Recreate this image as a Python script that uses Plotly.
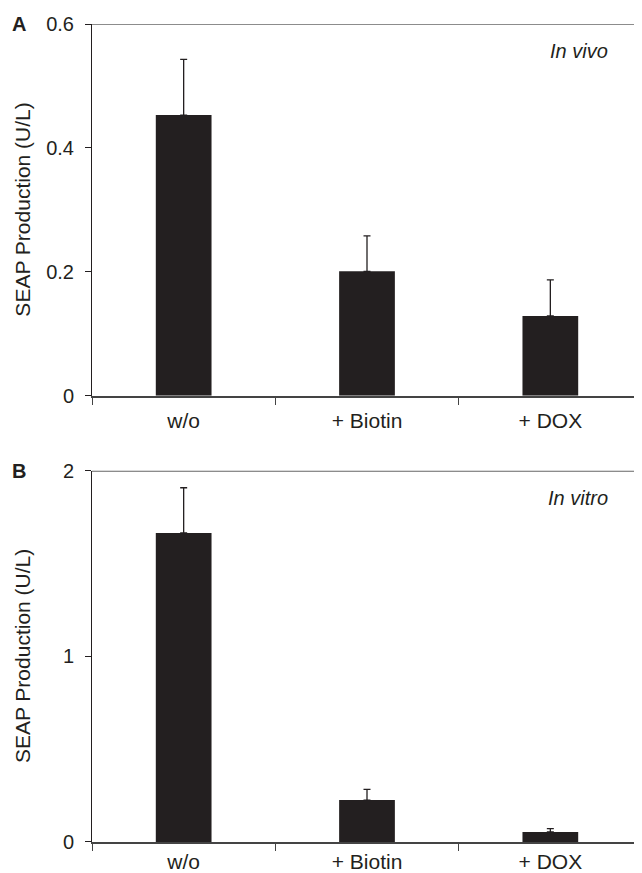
import plotly.graph_objects as go

categories = ["w/o", "+ Biotin", "+ DOX"]
vivo_values = [0.453, 0.201, 0.129]
vivo_err = [0.090, 0.057, 0.058]
vitro_values = [1.665, 0.226, 0.054]
vitro_err = [0.244, 0.058, 0.018]

y_title = "SEAP Production (U/L)"
panel_labels = ["A", "B"]
panel_notes = ["In vivo", "In vitro"]

INK = "#231f20"
FONT = "Liberation Sans, Arial, sans-serif"

# page body has an 8px margin; work in window pixels and convert
OFF = 8
W, H = 642, 873
AX_L, AX_R = 92.3, 642          # window px
A_TOP, A_BOT = 23.7, 395.7
B_TOP, B_BOT = 470.7, 842
ML = AX_L - OFF
MR = W - (AX_R - OFF)
MT = A_TOP - OFF
MB = H - (B_BOT - OFF)
ph = H - MT - MB
pw = W - ML - MR

def py(pix):
    return (B_BOT - pix) / ph

domA = [py(A_BOT), 1.0]
domB = [0.0, py(B_TOP)]

fig = go.Figure()
for vals, errs, xa, ya in [(vivo_values, vivo_err, "x", "y"), (vitro_values, vitro_err, "x2", "y2")]:
    fig.add_bar(
        x=categories, y=vals, xaxis=xa, yaxis=ya,
        marker=dict(color=INK, line=dict(width=0)),
        error_y=dict(type="data", array=errs, symmetric=False, arrayminus=[0] * len(errs),
                     color=INK, thickness=1.3, width=3.5),
        showlegend=False,
    )

xcommon = dict(type="category", range=[-0.5, 2.5], tickson="boundaries", ticks="outside",
               ticklen=7, tickcolor="#444", tickwidth=1.2, showline=True, linecolor="#444",
               linewidth=1.5, showgrid=False, zeroline=False,
               tickfont=dict(family=FONT, size=21, color=INK), fixedrange=True)
ycommon = dict(ticks="outside", ticklen=6, tickcolor=INK, tickwidth=1, showline=True,
               linecolor=INK, linewidth=1, showgrid=False, zeroline=False,
               tickfont=dict(family=FONT, size=20, color=INK), ticklabelstandoff=7)

fig.update_layout(
    width=W, height=H,
    margin=dict(l=ML, r=MR, t=MT, b=MB, autoexpand=False),
    plot_bgcolor="white", paper_bgcolor="white",
    bargap=0.696,
    xaxis=dict(domain=[0, 1], anchor="y", ticklabelstandoff=5, **xcommon),
    xaxis2=dict(domain=[0, 1], anchor="y2", ticklabelstandoff=0, **xcommon),
    yaxis=dict(domain=domA, anchor="x", range=[0, 0.6], tickvals=[0, 0.2, 0.4, 0.6],
               ticktext=["0", "0.2", "0.4", "0.6"], **ycommon),
    yaxis2=dict(domain=domB, anchor="x2", range=[0, 2], tickvals=[0, 1, 2],
                ticktext=["0", "1", "2"], **ycommon),
)

# top boundary lines
fig.add_shape(type="line", xref="x domain", yref="y", x0=0, x1=1, y0=0.6, y1=0.6,
              line=dict(color="#666", width=1.7))
fig.add_shape(type="line", xref="x2 domain", yref="y2", x0=0, x1=1, y0=2, y1=2,
              line=dict(color="#666", width=1.7))

for i, (yd, lab, note) in enumerate([("y domain", panel_labels[0], panel_notes[0]),
                                     ("y2 domain", panel_labels[1], panel_notes[1])]):
    xd = "x domain" if i == 0 else "x2 domain"
    fig.add_annotation(text=f"<b>{lab}</b>", xref="paper", yref=yd, x=0, xshift=-(AX_L - 19), y=1,
                       xanchor="center", yanchor="middle", showarrow=False,
                       font=dict(family=FONT, size=20, color=INK))
    fig.add_annotation(text=f"<i>{note}</i>", xref=xd, yref=yd, x=(610 - AX_L) / pw,
                       y=0.927, xanchor="right", yanchor="middle", showarrow=False,
                       font=dict(family=FONT, size=20, color=INK))
    fig.add_annotation(text=y_title, xref="paper", yref=yd, x=0, xshift=-(AX_L - 23), y=0.5,
                       xanchor="center", yanchor="middle", textangle=-90, showarrow=False,
                       font=dict(family=FONT, size=21, color=INK))

fig.write_html("out.html", config={"displayModeBar": False})
